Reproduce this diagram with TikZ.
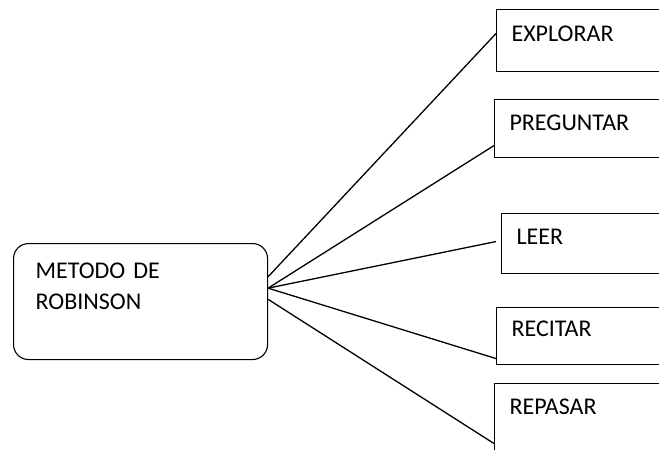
\documentclass[tikz,border=0pt]{standalone}
\usepackage{fontspec}
\setmainfont{Carlito}
\usepackage{tikz}
\usetikzlibrary{positioning}

\begin{document}
\begin{tikzpicture}[x=1pt,y=-1pt,semithick]
\tikzset{
  metodo/.style={draw=black,line width=1.1pt,rounded corners=15pt,anchor=north west,
    minimum width=254pt,inner xsep=22pt,inner ysep=0pt,text width=210pt,align=left,
    text height=35pt,text depth=81pt,font=\fontsize{24pt}{31pt}\selectfont},
  paso/.style={draw=black,line width=1.1pt,anchor=north west,inner xsep=15pt,inner ysep=0pt,
    text width=170pt,align=left,font=\fontsize{24pt}{28pt}\selectfont},
  enlace/.style={draw=black,line width=1.3pt}
}
\useasboundingbox (0,0) rectangle (659,450);
\clip (0,0) rectangle (659,450);
% nodo central
\node[metodo] (main) at (13,243) {METODO DE\\ROBINSON};
% pasos
\node[paso,text height=32pt,text depth=30pt] (explorar) at (496,9) {EXPLORAR};
\node[paso,text height=31pt,text depth=27pt] (preguntar) at (494,99) {PREGUNTAR};
\node[paso,text height=31pt,text depth=29pt] (leer) at (501,213) {LEER};
\node[paso,text height=29pt,text depth=28pt] (recitar) at (496,307) {RECITAR};
\node[paso,text height=31pt,text depth=56pt] (repasar) at (494,383) {REPASAR};
% lineas
\path[enlace]
(main.11) edge ([yshift=7pt]explorar.west)
(main.6) edge ([yshift=-17pt]preguntar.west)
(main.6) edge ([xshift=-5pt,yshift=2pt]leer.west)
(main.6) edge ([yshift=-22.5pt]recitar.west)
(main.1) edge ([yshift=-16.5pt]repasar.west);
\end{tikzpicture}
\end{document}
